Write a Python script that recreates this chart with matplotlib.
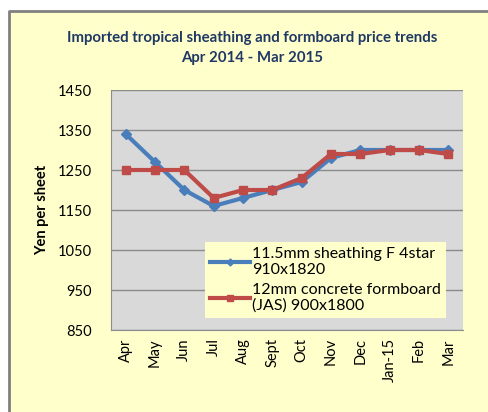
import matplotlib.pyplot as plt
import matplotlib.patches as mpatches
from matplotlib.lines import Line2D

months = ["Apr", "May", "Jun", "Jul", "Aug", "Sept", "Oct", "Nov", "Dec", "Jan-15", "Feb", "Mar"]
sheathing = [1340, 1270, 1200, 1160, 1180, 1200, 1220, 1280, 1300, 1300, 1300, 1300]
formboard = [1250, 1250, 1250, 1180, 1200, 1200, 1230, 1290, 1290, 1300, 1300, 1290]
yticks = [850, 950, 1050, 1150, 1250, 1350, 1450]

plt.rcParams["font.family"] = ["Lato", "DejaVu Sans"]

fig = plt.figure(figsize=(4.89, 4.12), dpi=100)
fig.patch.set_facecolor("white")
# yellow chart frame, runs off the right and bottom edges (only left/top border visible)
x0, y0 = 8.5 / 489, 1 - 10.5 / 412
fig.patches.append(mpatches.Rectangle((x0, 0), 1 - x0, y0, transform=fig.transFigure,
                                      facecolor="#FFFFCC", edgecolor="none", zorder=-10))
fig.lines.append(Line2D([x0, x0, 1], [0, y0, y0], transform=fig.transFigure,
                        color="#808080", lw=2, zorder=-9))

ax = fig.add_axes([111 / 489, 1 - 330 / 412, 352 / 489, 240 / 412])
ax.set_facecolor("#D9D9D9")
x = range(len(months))
ax.plot(x, sheathing, color="#4A7EBB", lw=3, marker="D", ms=5, label="11.5mm sheathing F 4star\n910x1820", zorder=3)
ax.plot(x, formboard, color="#BE4B48", lw=3, marker="s", ms=5.5, label="12mm concrete formboard\n(JAS) 900x1800", zorder=3)

ax.set_xlim(-0.5, len(months) - 0.5)
ax.set_ylim(850, 1450)
ax.set_yticks(yticks)
ax.set_xticks(list(x))
ax.set_xticklabels(months, rotation=90, fontsize=10.5)
ax.tick_params(axis="y", labelsize=10.5, length=0, pad=14)
ax.tick_params(axis="x", length=0, pad=6)
ax.grid(axis="y", color="#8C8C8C", lw=1)
ax.set_axisbelow(True)
for s in ["top", "right"]:
    ax.spines[s].set_visible(False)
ax.spines["left"].set_color("#8C8C8C")
ax.spines["bottom"].set_color("#8C8C8C")

ax.set_ylabel("Yen per sheet", fontsize=10.5, fontweight="bold", labelpad=6)

leg = ax.legend(loc="lower left", bbox_to_anchor=(94 / 352, 12 / 240), fontsize=11.5,
                frameon=True, fancybox=False, borderpad=0.3, borderaxespad=0,
                handlelength=2.5, handletextpad=0.15, labelspacing=0.35, markerscale=0.7)
leg.get_frame().set_facecolor("#FFFFCC")
leg.get_frame().set_edgecolor("none")
leg.get_frame().set_alpha(1)

fig.text(0.515, 1 - 48 / 412, "Imported tropical sheathing and formboard price trends\nApr 2014 - Mar 2015",
         ha="center", va="center", fontsize=10.8, fontweight="bold", color="#1F3864", linespacing=1.5)

fig.savefig("out.png", dpi=100)
